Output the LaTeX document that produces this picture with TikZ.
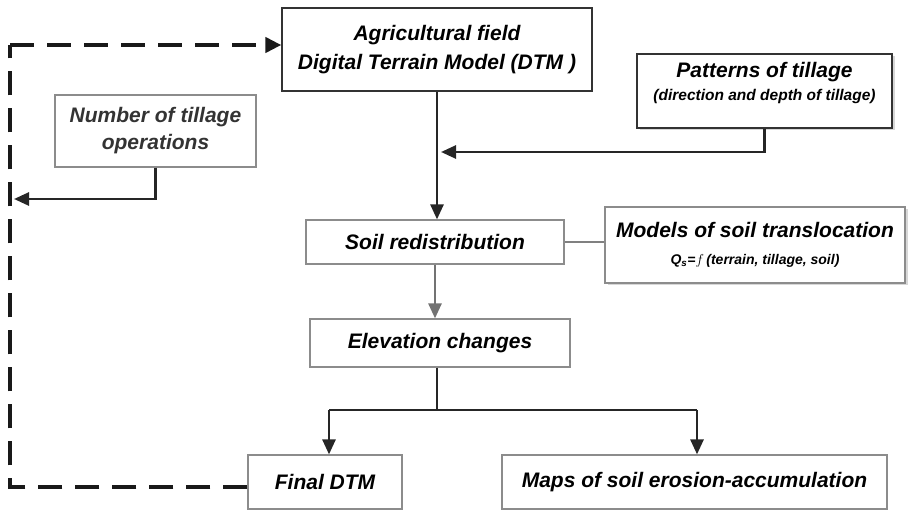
\documentclass[tikz,border=0pt]{standalone}
\usepackage{fontspec}
\setmainfont{Liberation Sans}
\usetikzlibrary{arrows.meta,shadows}
\begin{document}
\begin{tikzpicture}[x=1pt,y=-1pt,
  box/.style={draw=black!80, line width=1.2pt, fill=white, inner sep=0pt, align=center,
    font=\fontsize{21}{29}\selectfont\bfseries\itshape},
  gbox/.style={box, draw=black!45},
  shad/.style={drop shadow={shadow xshift=3pt, shadow yshift=-2pt, opacity=0.35, fill=black!45}},
  ln/.style={line width=2.7pt, draw=black!85},
  arr/.style={ln, -{Triangle[length=15pt,width=13pt]}},
  garr/.style={line width=2.7pt, draw=black!55, -{Triangle[length=15pt,width=13pt]}},
  gln/.style={line width=2.7pt, draw=black!50},
  dsh/.style={line width=4.5pt, draw=black!90, dash pattern=on 24pt off 13pt},
  dsharr/.style={dsh, -{Triangle[length=16pt,width=15pt]}}
]
\useasboundingbox (0,0) rectangle (909,511);

% boxes
\node[box, minimum width=310pt, minimum height=83pt] (agri) at (437,49.5)
  {Agricultural field\\Digital Terrain Model (DTM )};
\node[box, shad, minimum width=255pt, minimum height=74pt] (pat) at (764.5,91)
  {Patterns of tillage\\[-6pt]{\fontsize{15.5}{18}\selectfont (direction and depth of tillage)}\\[-10pt]\mbox{}};
\node[gbox, minimum width=201pt, minimum height=72pt, text=black!80,
  font=\fontsize{21}{27}\selectfont\bfseries\itshape] (num) at (155.5,131)
  {Number of tillage\\operations};
\node[gbox, minimum width=258pt, minimum height=44pt] (soil) at (435,242)
  {Soil redistribution};
\node[gbox, shad, minimum width=300pt, minimum height=76pt] (models) at (755,245)
  {Models of soil translocation\\[-2pt]{\fontsize{14}{18}\selectfont Q\textsubscript{s}=$f$\,(terrain, tillage, soil)}};
\node[gbox, minimum width=260pt, minimum height=48pt] (elev) at (440,343)
  {Elevation changes};
\node[gbox, minimum width=154pt, minimum height=54pt] (final) at (325,482)
  {Final DTM};
\node[gbox, minimum width=385pt, minimum height=54pt] (maps) at (694.5,482)
  {Maps of soil erosion-accumulation};

% coordinates
\coordinate (j1) at (441,152);
\coordinate (fb) at (14,199);
\coordinate (dcb) at (10,487);
\coordinate (dct) at (10,45);
\coordinate (sp) at (437,410);
\coordinate (fa) at (329,410);
\coordinate (ma) at (697,410);

% connectors
\draw[arr] (agri.south) -- (agri.south |- soil.north);
\draw[arr] (pat.south) |- (j1);
\draw[arr] (num.south) |- (fb);
\draw[gln] (soil.east) -- (soil.east -| models.west);
\draw[garr] (soil.south) -- (soil.south |- elev.north);
\draw[ln] (elev.south -| sp) -- (sp);
\draw[ln] (fa) -- (ma);
\draw[arr] (fa) -- (fa |- final.north);
\draw[arr] (ma) -- (ma |- maps.north);

% dashed feedback loop
\draw[dsh] ([yshift=-5pt]final.west) -- (dcb) -- (dct);
\draw[dsharr] (dct) -- ([yshift=4.5pt]agri.west);
\end{tikzpicture}
\end{document}
